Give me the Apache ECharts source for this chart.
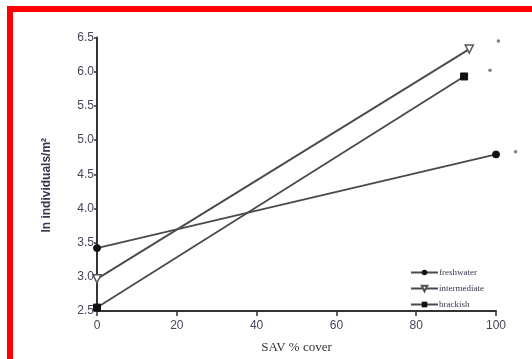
<!DOCTYPE html>
<html>
<head>
<meta charset="utf-8">
<script src="https://cdn.jsdelivr.net/npm/echarts@6/dist/echarts.min.js"></script>
<style>
  html, body { margin: 0; padding: 0; background: #fff; }
  #chart { width: 532px; height: 359px; }
</style>
</head>
<body>
<div id="chart"></div>
<script>
// values
const seriesNames = ['freshwater', 'intermediate', 'brackish'];
const freshwaterX = [0, 100];
const freshwaterY = [3.42, 4.79];
const intermediateX = [0, 93.3];
const intermediateY = [2.97, 6.33];
const brackishX = [0, 92];
const brackishY = [2.55, 5.93];
// significance asterisks beside the line ends
const starX = [100.6, 98.5, 104.9];
const starY = [6.45, 6.02, 4.83];

const pairs = (xs, ys) => xs.map((x, i) => [x, ys[i]]);

const lineColor = '#4a4a4a';
const chart = echarts.init(document.getElementById('chart'));

const option = {
  animation: false,
  backgroundColor: '#fff',
  grid: { left: 97, right: 36, top: 37.5, bottom: 43 },
  graphic: [
    { type: 'rect', shape: { x: 7, y: 6, width: 525, height: 6 }, style: { fill: '#ff0000' } },
    { type: 'rect', shape: { x: 7, y: 6, width: 6, height: 353 }, style: { fill: '#ff0000' } }
  ],
  legend: {
    orient: 'vertical',
    left: 405,
    top: 263,
    itemWidth: 27,
    itemHeight: 7,
    itemGap: 7,
    textStyle: { fontFamily: 'Liberation Serif', fontSize: 9, color: '#3a3550', padding: [0, 0, 0, -4] },
    data: seriesNames
  },
  xAxis: {
    type: 'value',
    min: 0,
    max: 100,
    interval: 20,
    name: 'SAV % cover',
    nameLocation: 'middle',
    nameGap: 30,
    nameTextStyle: { fontFamily: 'Liberation Serif', fontSize: 13, color: '#333' },
    splitLine: { show: false },
    axisLine: { lineStyle: { color: '#333', width: 2 } },
    axisTick: { length: 5, lineStyle: { color: '#333', width: 1.5 } },
    axisLabel: { fontFamily: 'Liberation Sans', fontSize: 12, color: '#45455a', margin: 9 }
  },
  yAxis: {
    type: 'value',
    min: 2.5,
    max: 6.5,
    interval: 0.5,
    name: 'ln individuals/m²',
    nameLocation: 'middle',
    nameRotate: 90,
    nameGap: 44,
    nameTextStyle: { fontFamily: 'Liberation Sans', fontSize: 12, fontWeight: 'bold', color: '#3a3550', padding: [0, 22, 0, 0] },
    splitLine: { show: false },
    axisLine: { show: true, lineStyle: { color: '#333', width: 2 } },
    axisTick: { show: true, length: 3, lineStyle: { color: '#333', width: 1.5 } },
    axisLabel: {
      fontFamily: 'Liberation Sans', fontSize: 12, color: '#45455a', margin: 3,
      formatter: v => v.toFixed(1)
    }
  },
  series: [
    {
      name: 'freshwater',
      type: 'line',
      data: pairs(freshwaterX, freshwaterY),
      symbol: 'circle',
      symbolSize: 7,
      itemStyle: { color: '#111', borderColor: '#111' },
      lineStyle: { color: lineColor, width: 1.8 }
    },
    {
      name: 'intermediate',
      type: 'line',
      data: pairs(intermediateX, intermediateY),
      symbol: 'triangle',
      symbolRotate: 180,
      symbolSize: 8,
      itemStyle: { color: '#fff', borderColor: '#555', borderWidth: 1.5 },
      lineStyle: { color: lineColor, width: 1.8 }
    },
    {
      name: 'brackish',
      type: 'line',
      data: pairs(brackishX, brackishY),
      symbol: 'rect',
      symbolSize: 7,
      itemStyle: { color: '#111', borderColor: '#111' },
      lineStyle: { color: lineColor, width: 1.8 }
    },
    {
      name: 'stars',
      type: 'scatter',
      clip: false,
      data: pairs(starX, starY),
      symbol: 'circle',
      symbolSize: 3.5,
      itemStyle: { color: '#6a5570' },
      silent: true
    }
  ]
};

chart.setOption(option);
</script>
</body>
</html>
